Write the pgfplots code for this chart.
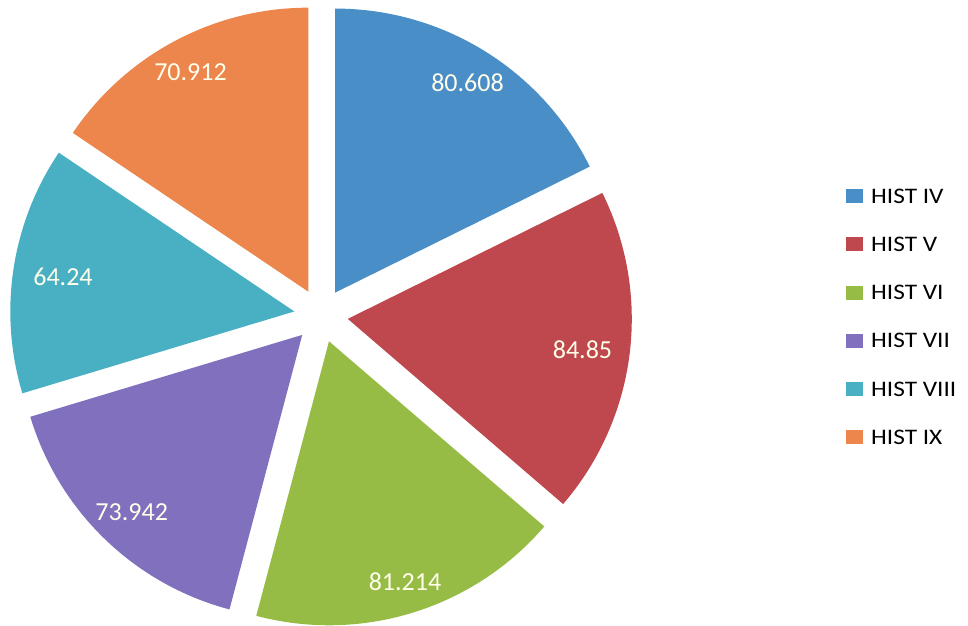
\documentclass[border=0pt]{standalone}
\usepackage{pgfplots}
\usepackage{pgfplotstable}
\usepackage{graphicx}
\usepackage{fontspec}
\setmainfont{Carlito}
\pgfplotsset{compat=1.18}

\definecolor{cA}{RGB}{74,142,200}
\definecolor{cB}{RGB}{190,72,78}
\definecolor{cC}{RGB}{150,188,70}
\definecolor{cD}{RGB}{128,112,190}
\definecolor{cE}{RGB}{72,176,194}
\definecolor{cF}{RGB}{236,134,76}

\pgfplotstableread{
value
80.608
84.85
81.214
73.942
64.24
70.912
}\piedata

\begin{document}%
\begin{tikzpicture}
% geometry (in px of the reference, 1px = 1pt, y upwards)
\def\cx{321}\def\cy{309.5}\def\R{284}\def\ex{27}
\pgfplotstablegetelem{0}{value}\of\piedata\edef\vA{\pgfplotsretval}
\pgfplotstablegetelem{1}{value}\of\piedata\edef\vB{\pgfplotsretval}
\pgfplotstablegetelem{2}{value}\of\piedata\edef\vC{\pgfplotsretval}
\pgfplotstablegetelem{3}{value}\of\piedata\edef\vD{\pgfplotsretval}
\pgfplotstablegetelem{4}{value}\of\piedata\edef\vE{\pgfplotsretval}
\pgfplotstablegetelem{5}{value}\of\piedata\edef\vF{\pgfplotsretval}
\pgfmathsetmacro{\tot}{\vA+\vB+\vC+\vD+\vE+\vF}
% start/end angles, clockwise from 90 deg
\pgfmathsetmacro{\sA}{90}
\pgfmathsetmacro{\eA}{\sA-\vA/\tot*360}
\pgfmathsetmacro{\eB}{\eA-\vB/\tot*360}
\pgfmathsetmacro{\eC}{\eB-\vC/\tot*360}
\pgfmathsetmacro{\eD}{\eC-\vD/\tot*360}
\pgfmathsetmacro{\eE}{\eD-\vE/\tot*360}
\pgfmathsetmacro{\eF}{\eE-\vF/\tot*360}
% apex of each exploded slice
\pgfmathsetmacro{\pxA}{\cx+\ex*cos((\sA+\eA)/2)}\pgfmathsetmacro{\pyA}{\cy+\ex*sin((\sA+\eA)/2)}
\pgfmathsetmacro{\pxB}{\cx+\ex*cos((\eA+\eB)/2)}\pgfmathsetmacro{\pyB}{\cy+\ex*sin((\eA+\eB)/2)}
\pgfmathsetmacro{\pxC}{\cx+\ex*cos((\eB+\eC)/2)}\pgfmathsetmacro{\pyC}{\cy+\ex*sin((\eB+\eC)/2)}
\pgfmathsetmacro{\pxD}{\cx+\ex*cos((\eC+\eD)/2)}\pgfmathsetmacro{\pyD}{\cy+\ex*sin((\eC+\eD)/2)}
\pgfmathsetmacro{\pxE}{\cx+\ex*cos((\eD+\eE)/2)}\pgfmathsetmacro{\pyE}{\cy+\ex*sin((\eD+\eE)/2)}
\pgfmathsetmacro{\pxF}{\cx+\ex*cos((\eE+\eF)/2)}\pgfmathsetmacro{\pyF}{\cy+\ex*sin((\eE+\eF)/2)}
\begin{axis}[
  width=968pt, height=625pt, scale only axis,
  xmin=0, xmax=968, ymin=0, ymax=625,
  hide axis, clip=false,
  legend cell align=left,
  legend style={at={(axis cs:846,436.2)}, anchor=north west, draw=none, fill=none,
    inner sep=0pt, row sep=33.9pt, column sep=8pt,
    nodes={inner sep=0pt, text height=14.3pt, text depth=0pt},
    font=\fontsize{22.2}{26}\selectfont},
  legend image code/.code={\path[#1] (0pt,-7pt) rectangle (17pt,7pt);},
]
\addplot[fill=cA, draw=none, domain=\eA:\sA, samples=90, variable=\t]
  ({\pxA+\R*cos(\t)},{\pyA+\R*sin(\t)}) -- (axis cs:\pxA,\pyA) -- cycle;
\addplot[fill=cB, draw=none, domain=\eB:\eA, samples=90, variable=\t]
  ({\pxB+\R*cos(\t)},{\pyB+\R*sin(\t)}) -- (axis cs:\pxB,\pyB) -- cycle;
\addplot[fill=cC, draw=none, domain=\eC:\eB, samples=90, variable=\t]
  ({\pxC+\R*cos(\t)},{\pyC+\R*sin(\t)}) -- (axis cs:\pxC,\pyC) -- cycle;
\addplot[fill=cD, draw=none, domain=\eD:\eC, samples=90, variable=\t]
  ({\pxD+\R*cos(\t)},{\pyD+\R*sin(\t)}) -- (axis cs:\pxD,\pyD) -- cycle;
\addplot[fill=cE, draw=none, domain=\eE:\eD, samples=90, variable=\t]
  ({\pxE+\R*cos(\t)},{\pyE+\R*sin(\t)}) -- (axis cs:\pxE,\pyE) -- cycle;
\addplot[fill=cF, draw=none, domain=\eF:\eE, samples=90, variable=\t]
  ({\pxF+\R*cos(\t)},{\pyF+\R*sin(\t)}) -- (axis cs:\pxF,\pyF) -- cycle;

\legend{\scalebox{1.14}[1]{HIST IV},\scalebox{1.14}[1]{HIST V},\scalebox{1.14}[1]{HIST VI},\scalebox{1.14}[1]{HIST VII},\scalebox{1.14}[1]{HIST VIII},\scalebox{1.14}[1]{HIST IX}}

\path (axis cs:0,0) rectangle (axis cs:968,625);
\begin{scope}[every node/.style={text=white!92!yellow, inner sep=0pt, font=\fontsize{26}{30}\selectfont}]
\node at (axis cs:467.5,542.3) {80.608};
\node at (axis cs:582.5,275.3) {84.85};
\node at (axis cs:405,43.7) {81.214};
\node at (axis cs:131.7,113.3) {73.942};
\node at (axis cs:63,347.7) {64.24};
\node at (axis cs:190.5,553.3) {70.912};
\end{scope}
\end{axis}
\end{tikzpicture}%
\end{document}
